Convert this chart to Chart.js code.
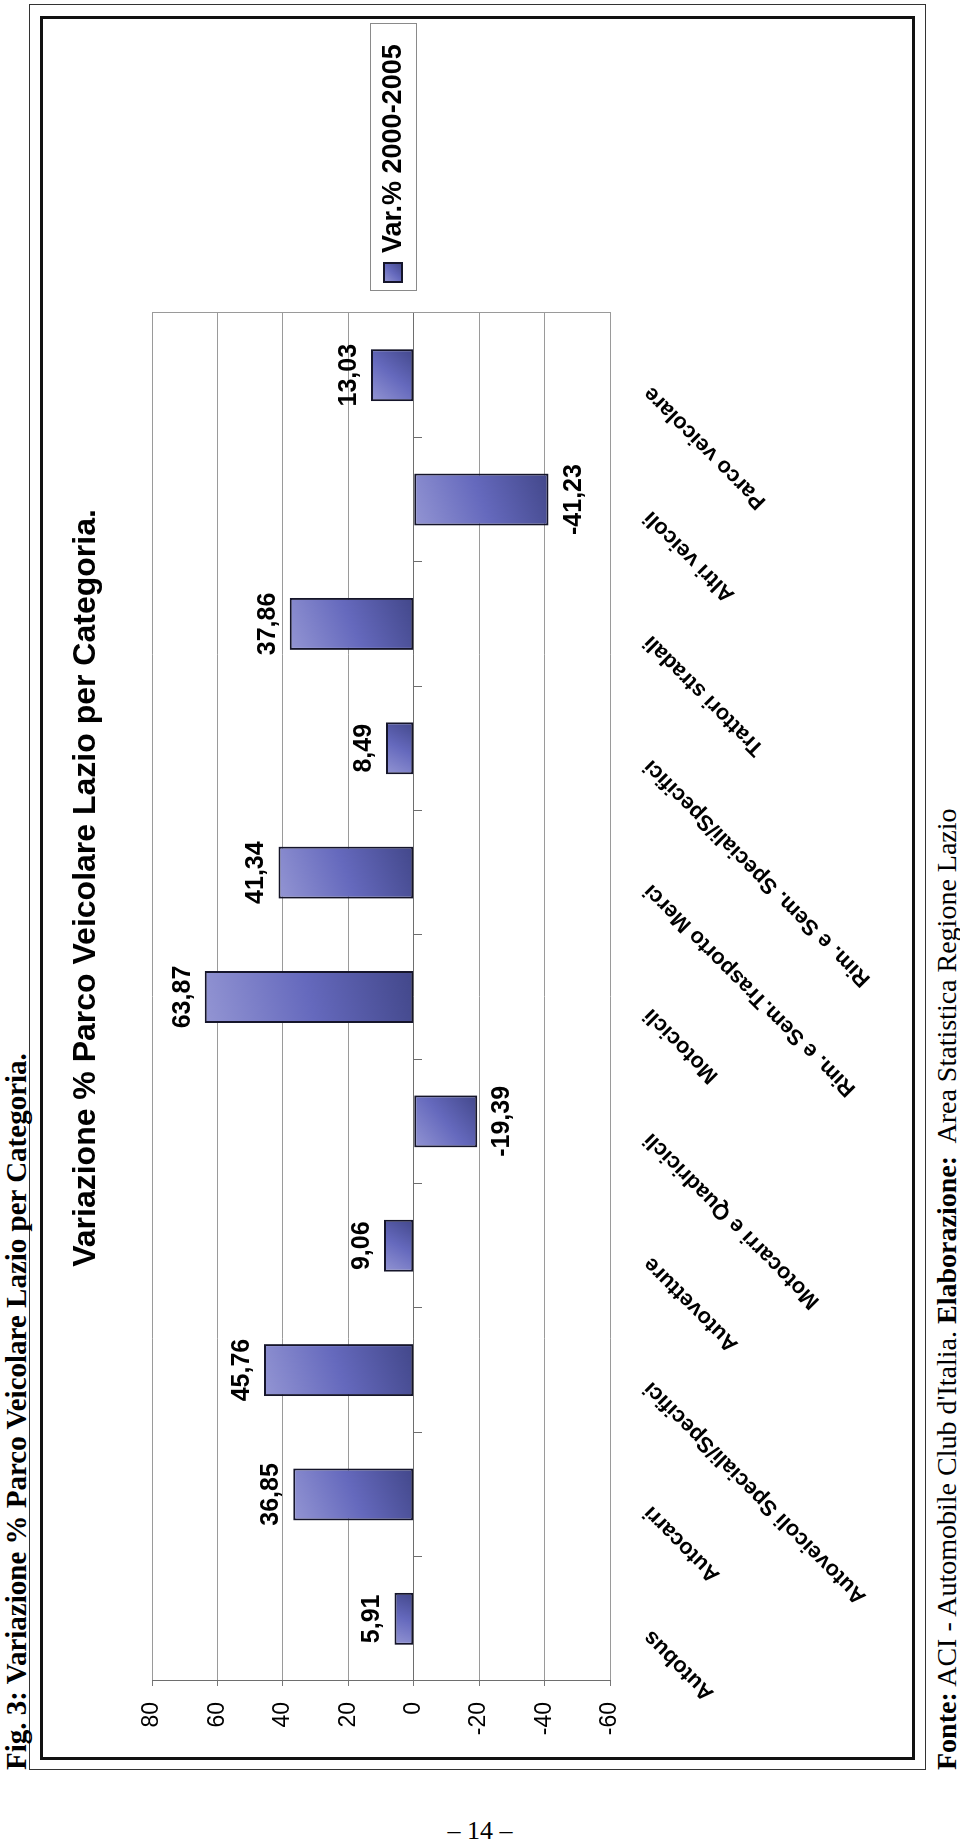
<!DOCTYPE html>
<html>
<head>
<meta charset="utf-8">
<script src="https://cdn.jsdelivr.net/npm/chart.js@4.4.0/dist/chart.umd.min.js"></script>
<style>
html,body{margin:0;padding:0;width:960px;height:1844px;overflow:hidden;background:#fff;}
#rot{position:absolute;left:0;top:0;width:1844px;height:960px;transform-origin:0 0;transform:translate(0px,1844px) rotate(-90deg);}
.outer{position:absolute;left:74px;top:29px;width:1766px;height:897px;border:1.5px solid #333;box-sizing:border-box;}
.inner{position:absolute;left:84px;top:40px;width:1744px;height:875px;border:3px solid #111;box-sizing:border-box;}
#hdr{position:absolute;left:74px;top:2px;font:bold 29px "Liberation Serif","Times New Roman",serif;line-height:29px;white-space:nowrap;color:#000;}
#ftr{position:absolute;left:74px;top:933px;font:28px "Liberation Serif","Times New Roman",serif;line-height:28px;white-space:nowrap;color:#000;}
#cv{position:absolute;left:86px;top:42px;}
#pg{position:absolute;left:0;width:960px;top:1816px;text-align:center;font:26px "Liberation Serif","Times New Roman",serif;line-height:30px;color:#000;}
</style>
</head>
<body>
<div id="rot">
  <div class="outer"></div>
  <div class="inner"></div>
  <div id="hdr">Fig. 3: Variazione % Parco Veicolare Lazio per Categoria.</div>
  <canvas id="cv" width="1740" height="872"></canvas>
  <div id="ftr"><b>Fonte:</b> ACI - Automobile Club d'Italia. <b>Elaborazione:</b>&nbsp; Area Statistica Regione Lazio</div>
</div>
<div id="pg">– 14 –</div>
<script>
const categories = ['Autobus','Autocarri','Autoveicoli Speciali/Specifici','Autovetture','Motocarri e Quadricicli','Motocicli','Rim. e Sem.Trasporto Merci','Rim. e Sem. Speciali/Specifici','Trattori stradali','Altri veicoli','Parco veicolare'];
const variazione = [5.91, 36.85, 45.76, 9.06, -19.39, 63.87, 41.34, 8.49, 37.86, -41.23, 13.03];
const seriesLabel = 'Var.% 2000-2005';
const chartTitle = 'Variazione % Parco Veicolare Lazio per Categoria.';
const yMin = -60, yMax = 80, yStep = 20;

const BAR_PCT = 0.418;
Chart.defaults.font.family = '"Liberation Sans", Arial, sans-serif';

function barGradient(ctx, x0, y0, x1, y1) {
  const g = ctx.createLinearGradient(x0, y0, x1, y1);
  g.addColorStop(0, '#9395d3');
  g.addColorStop(0.5, '#6569bd');
  g.addColorStop(1, '#42478a');
  return g;
}

const valueLabels = {
  id: 'valueLabels',
  afterDatasetsDraw(chart) {
    const ctx = chart.ctx;
    const meta = chart.getDatasetMeta(0);
    ctx.save();
    ctx.font = 'bold 25px "Liberation Sans", Arial, sans-serif';
    ctx.fillStyle = '#000';
    ctx.textAlign = 'center';
    ctx.textBaseline = 'alphabetic';
    meta.data.forEach((bar, i) => {
      const v = chart.data.datasets[0].data[i];
      const t = v.toFixed(2).replace('.', ',');
      const y = v >= 0 ? bar.y - 15 : bar.y + 14 + 18;
      ctx.fillText(t, bar.x, y);
    });
    ctx.restore();
  }
};

const boxedLegend = {
  id: 'boxedLegend',
  afterDraw(chart) {
    const ctx = chart.ctx;
    const a = chart.chartArea;
    const mid = (a.top + a.bottom) / 2 + 12;
    const left = a.right + 22, w = 267, h = 46, top = mid - h / 2;
    ctx.save();
    ctx.fillStyle = '#fff';
    ctx.fillRect(left, top, w, h);
    ctx.strokeStyle = '#8a8a8a';
    ctx.lineWidth = 1;
    ctx.strokeRect(left + 0.5, top + 0.5, w, h);
    const sx = left + 9, sy = mid - 9;
    ctx.fillStyle = barGradient(ctx, sx, sy, sx + 19, sy + 18);
    ctx.fillRect(sx, sy, 19, 18);
    ctx.strokeStyle = '#15152a';
    ctx.lineWidth = 2;
    ctx.strokeRect(sx, sy, 19, 18);
    ctx.fillStyle = '#000';
    ctx.font = 'bold 27px "Liberation Sans", Arial, sans-serif';
    ctx.textAlign = 'left';
    ctx.textBaseline = 'middle';
    ctx.fillText(chart.data.datasets[0].label, left + 38, mid + 1);
    ctx.restore();
  }
};

new Chart(document.getElementById('cv'), {
  type: 'bar',
  data: {
    labels: categories,
    datasets: [{
      label: seriesLabel,
      data: variazione,
      xAxisID: 'x',
      yAxisID: 'y',
      categoryPercentage: 1,
      barPercentage: BAR_PCT,
      borderColor: '#15152a',
      borderWidth: 2,
      borderSkipped: false,
      backgroundColor: (c) => {
        const chart = c.chart, s = chart.scales;
        if (c.type !== 'data' || !s.x || !s.y || !chart.chartArea) return '#6569bd';
        const cx = s.x.getPixelForValue(c.dataIndex);
        const hw = s.x.width / categories.length * BAR_PCT / 2;
        const p = s.y.getPixelForValue(c.raw), p0 = s.y.getPixelForValue(0);
        return barGradient(chart.ctx, cx - hw, Math.min(p, p0), cx + hw, Math.max(p, p0));
      }
    }]
  },
  options: {
    responsive: false,
    animation: false,
    devicePixelRatio: 1,
    layout: { padding: 0 },
    plugins: {
      legend: { display: false },
      tooltip: { enabled: false },
      title: {
        display: true,
        text: chartTitle,
        color: '#000',
        font: { size: 32, weight: 'bold' },
        padding: { top: 24.8, bottom: 46.8 }
      }
    },
    scales: {
      x: {
        type: 'category', axis: 'x', position: 'bottom', offset: true,
        grid: { display: false, drawTicks: false, offset: true },
        border: { display: false },
        ticks: { autoSkip: false, minRotation: 45, maxRotation: 45, padding: 28, labelOffset: -15,
                 color: '#000', font: { size: 22, weight: 'bold' } },
        afterFit(s) { s.height = 304; }
      },
      x2: {
        type: 'category', axis: 'x', position: { y: 0 }, offset: true,
        grid: { display: true, drawOnChartArea: false, drawTicks: true, tickLength: 8, offset: true, color: '#6e6e6e' },
        border: { display: true, color: '#6e6e6e', width: 1 },
        ticks: { display: false }
      },
      y: {
        type: 'linear', axis: 'y', position: 'left', min: yMin, max: yMax,
        ticks: { stepSize: yStep, padding: 16, color: '#000', font: { size: 23 } },
        grid: { color: '#9a9a9a', tickLength: 5, tickColor: '#777' },
        border: { display: true, color: '#6e6e6e' },
        afterFit(s) { s.width = 77; }
      },
      yR: {
        type: 'linear', axis: 'y', position: 'right', display: true,
        ticks: { display: false },
        grid: { display: false, drawTicks: false },
        border: { display: true, color: '#9a9a9a' },
        afterFit(s) { s.width = 295; }
      }
    }
  },
  plugins: [valueLabels, boxedLegend]
});
</script>
</body>
</html>
